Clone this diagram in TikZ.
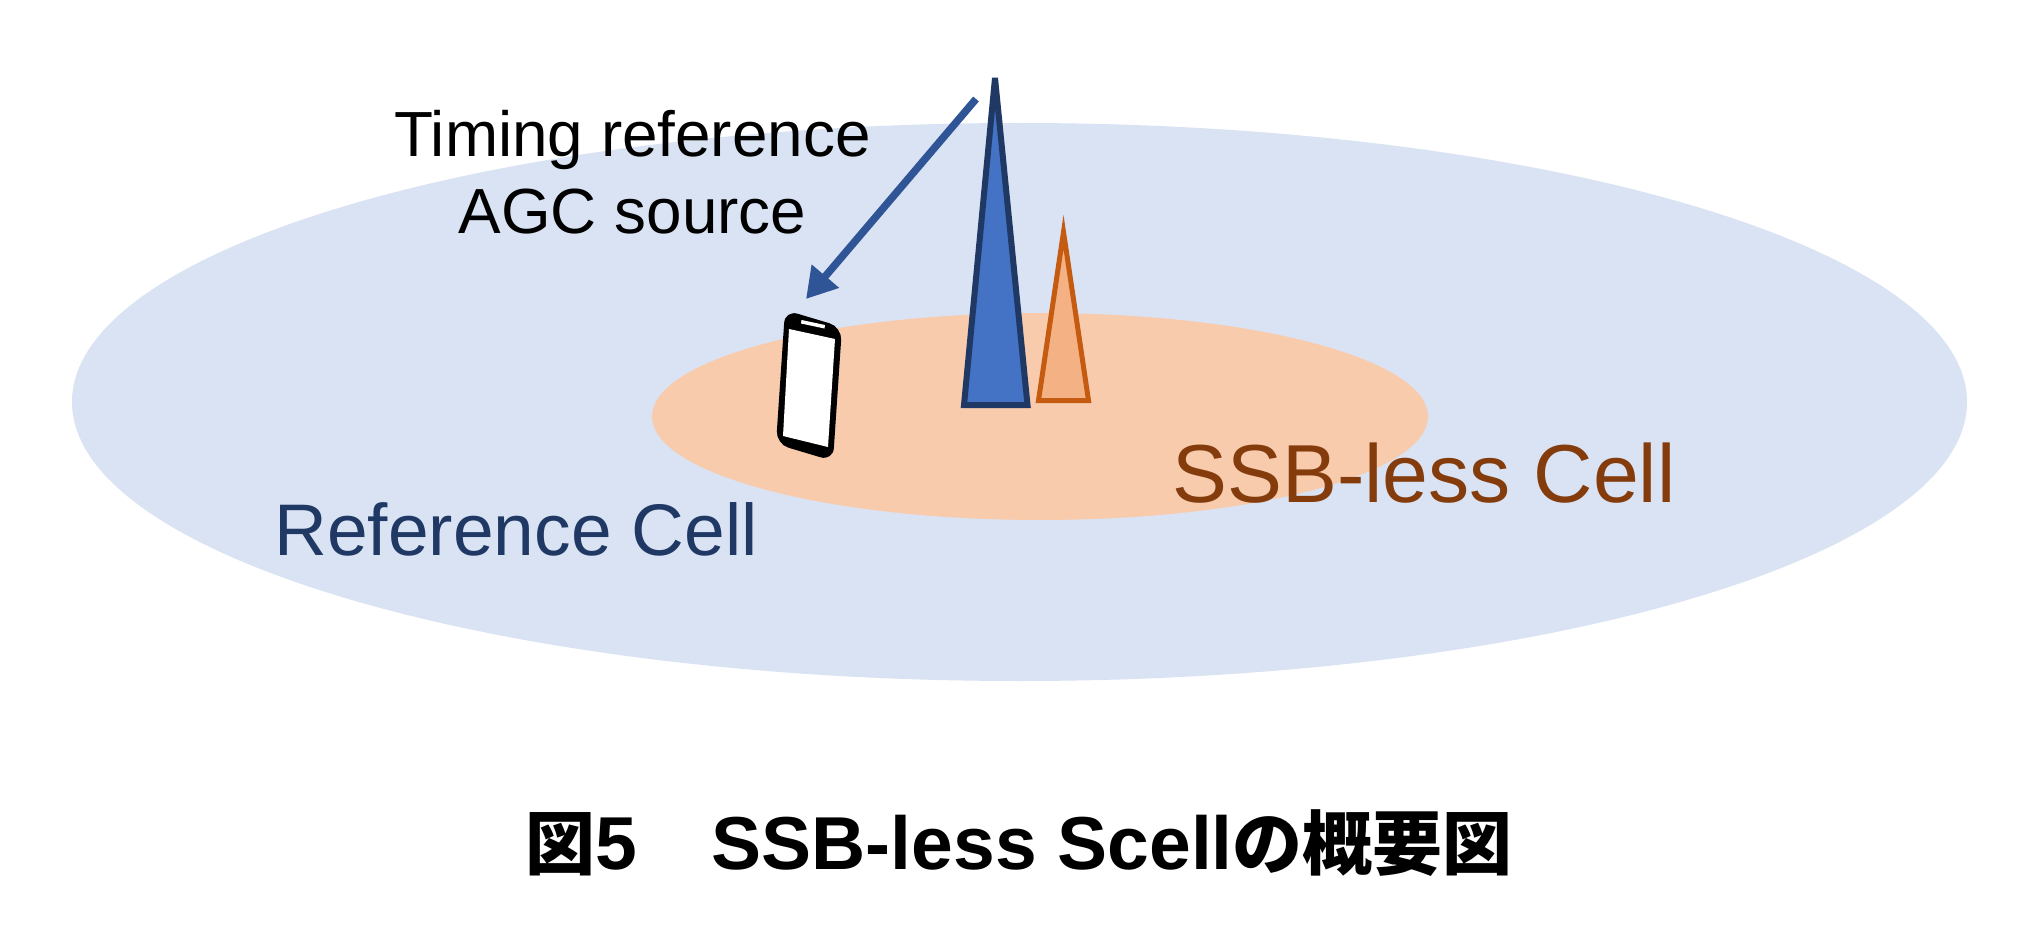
\documentclass[tikz,border=0pt]{standalone}
\usepackage{fontspec}
\setmainfont{Liberation Sans}
\newfontfamily\cjk{Noto Sans CJK JP}
\usetikzlibrary{arrows.meta}
\definecolor{refcell}{HTML}{DAE3F3}
\definecolor{lesscell}{HTML}{F8CBAD}
\definecolor{towerA}{HTML}{4472C4}
\definecolor{towerAline}{HTML}{1F3864}
\definecolor{towerB}{HTML}{F4B183}
\definecolor{towerBline}{HTML}{C55A11}
\definecolor{arrowblue}{HTML}{2F5597}
\definecolor{reftext}{HTML}{203864}
\definecolor{lesstext}{HTML}{843C0C}
\tikzset{
  x=1pt,y=-1pt,
  lbl/.style={inner sep=0pt,outer sep=0pt},
  signal/.style={draw=arrowblue,line width=7.5pt,-{Triangle[length=30pt,width=34pt]}}
}
\begin{document}
\begin{tikzpicture}
\useasboundingbox (0,0) rectangle (2039,928);
\fill[white] (0,0) rectangle (2039,928);
\fill[refcell] (1019.5,402) ellipse [x radius=947.5,y radius=279];
\fill[lesscell] (1040,416.5) ellipse [x radius=388,y radius=103.5];
% towers
\draw[fill=towerA,draw=towerAline,line width=6pt,line join=miter,miter limit=10]
  (995,78) -- (1027.5,405) -- (964,405) -- cycle;
\draw[fill=towerB,draw=towerBline,line width=5pt,line join=miter]
  (1063.5,232) -- (1088.5,400.5) -- (1038.5,400.5) -- cycle;
% phone
\fill[black,rounded corners=13pt] (785,310) -- (842,327) -- (833,461) -- (776,444) -- cycle;
\fill[white] (789,329) -- (835,339) -- (828,447) -- (783,436) -- cycle;
\fill[white] (801,323.5) -- (801.5,320) -- (825,325) -- (824.5,328.5) -- cycle;
% arrow
\coordinate (signalstart) at (976,99);
\coordinate (signalend) at (806,299);
\draw[signal] (signalstart) -- (signalend);
% labels
\node[lbl,align=center,font=\fontsize{63.8}{77}\selectfont] (timing) at (632.5,172) {Timing reference\\AGC source};
\node[lbl,anchor=base west,text=reftext,font=\fontsize{73.1}{80}\selectfont] (reflabel) at (274.5,555) {Reference Cell};
\node[lbl,anchor=base west,text=lesstext,font=\fontsize{82.3}{90}\selectfont] (lesslabel) at (1172.5,502) {SSB-less Cell};
\node[lbl,anchor=base west,font=\fontsize{75}{80}\selectfont\bfseries] (caption) at (525,869)
  {{\cjk\fontsize{70}{72}\selectfont 図}5\hspace{75pt}SSB-less Scell{\cjk\fontsize{70}{72}\selectfont の概要図}};
\end{tikzpicture}
\end{document}
